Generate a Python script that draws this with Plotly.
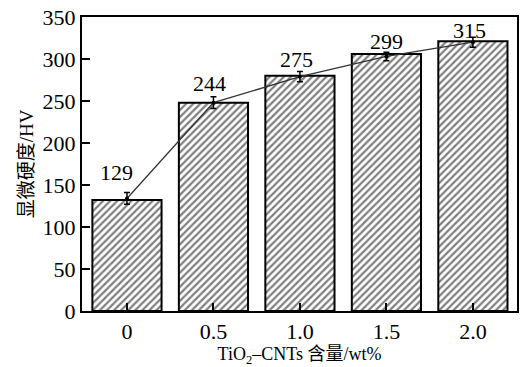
import plotly.graph_objects as go

categories = ["0", "0.5", "1.0", "1.5", "2.0"]
bar_values = [132, 248, 280, 306, 321]
line_values = [134, 248, 279, 303, 320]
error_values = [7, 7, 6, 5, 6]
label_texts = ["129", "244", "275", "299", "315"]
y_ticks = [0, 50, 100, 150, 200, 250, 300, 350]

x_pos = list(range(len(categories)))
label_yshift = [26, 19, 17, 15, 12]
label_xshift = [-10, -4, -3, 0, -3]

FONT = "Liberation Serif, Noto Sans CJK SC, serif"

fig = go.Figure()
fig.add_trace(go.Bar(
    x=x_pos, y=bar_values, width=0.8,
    marker=dict(color="white", line=dict(color="black", width=2),
                pattern=dict(shape="/", size=5, solidity=0.45,
                             fgcolor="black", bgcolor="white")),
    showlegend=False,
))
fig.add_trace(go.Scatter(
    x=x_pos, y=line_values, mode="lines+markers",
    line=dict(color="#333333", width=1.3),
    marker=dict(color="black", size=4),
    error_y=dict(type="data", array=error_values, color="black",
                 thickness=1.5, width=3),
    showlegend=False,
))

for xi, yi, t, ys, xs in zip(x_pos, line_values, label_texts, label_yshift, label_xshift):
    fig.add_annotation(x=xi, y=yi, text=t, showarrow=False,
                       yshift=ys, xshift=xs,
                       font=dict(family=FONT, size=22, color="black"))

fig.update_layout(
    width=520, height=367,
    margin=dict(l=82, r=1, t=17, b=56),
    paper_bgcolor="white", plot_bgcolor="white",
    font=dict(family=FONT, size=22, color="black"),
    bargap=0.2,
)
fig.update_xaxes(
    range=[-0.52, 4.51], tickvals=x_pos, ticktext=categories,
    ticks="inside", ticklen=8, tickwidth=2, tickcolor="black",
    showline=True, linecolor="black", linewidth=2, mirror=True,
    showgrid=False, zeroline=False,
    tickfont=dict(family=FONT, size=22),
    title=dict(text="TiO<sub>2</sub>–CNTs 含量/wt%", font=dict(family=FONT, size=18), standoff=2),
)
fig.update_yaxes(
    range=[0, 350], tickvals=y_ticks,
    ticks="inside", ticklen=8, tickwidth=2, tickcolor="black",
    showline=True, linecolor="black", linewidth=2, mirror=True,
    showgrid=False, zeroline=False,
    tickfont=dict(family=FONT, size=22),
    title=dict(text="显微硬度/HV", font=dict(family=FONT, size=19), standoff=4),
)

fig.write_html("out.html")
